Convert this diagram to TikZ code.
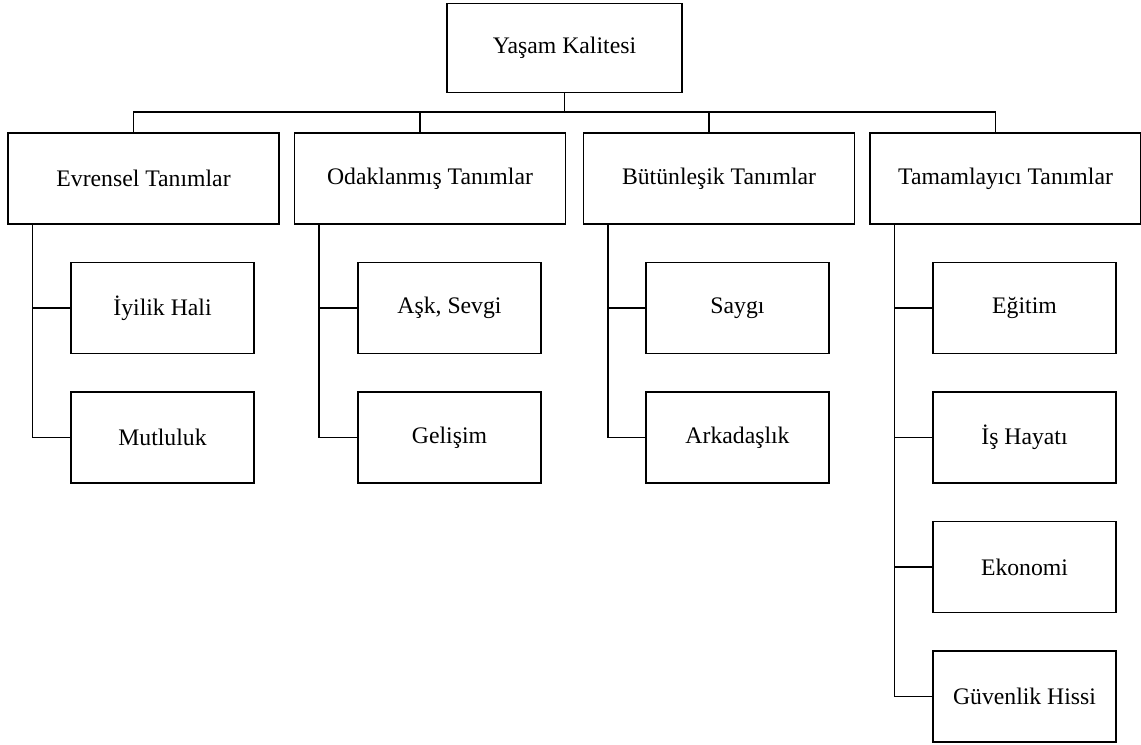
\documentclass[tikz,border=0pt]{standalone}
\usepackage{fontspec}
\setmainfont{Liberation Serif}
\usepackage{tikz}
\usetikzlibrary{positioning}

\tikzset{
  kutu/.style={draw, line width=0.7pt, minimum height=1.82cm, font=\fontsize{13.5}{16}\selectfont},
  ana/.style={kutu, minimum width=5.42cm},
  alt/.style={kutu, minimum width=3.66cm},
  bag/.style={line width=0.7pt}
}

\begin{document}
\begin{tikzpicture}[x=0.02cm, y=-0.02cm]
  \useasboundingbox (0,0) rectangle (1141,744);
  % root and first level
  \node[kutu, minimum width=4.7cm, minimum height=1.78cm] (yk) at (564.5,48) {Yaşam Kalitesi};
  \node[ana] (ev) at (143.5,178.5) {Evrensel Tanımlar};
  \node[ana] (od) at (430,178.5) {Odaklanmış Tanımlar};
  \node[ana] (bu) at (719,178.5) {Bütünleşik Tanımlar};
  \node[ana] (ta) at (1005.5,178.5) {Tamamlayıcı Tanımlar};
  \coordinate (bus) at (564.5,112);
  \draw[bag] (yk.south) -- (bus);
  \draw[bag] ([xshift=-0.2cm]ev.north) |- (bus) -| ([xshift=-0.2cm]ta.north);
  \draw[bag] ([xshift=-0.2cm]od.north) -- ([xshift=-0.2cm]od.north |- bus);
  \draw[bag] ([xshift=-0.2cm]bu.north) -- ([xshift=-0.2cm]bu.north |- bus);
  % second level
  \node[alt] (ev1) at (162.5,308) {İyilik Hali};
  \node[alt] (ev2) at (162.5,437.5) {Mutluluk};
  \node[alt] (od1) at (449.5,308) {Aşk, Sevgi};
  \node[alt] (od2) at (449.5,437.5) {Gelişim};
  \node[alt] (bu1) at (737.5,308) {Saygı};
  \node[alt] (bu2) at (737.5,437.5) {Arkadaşlık};
  \node[alt] (ta1) at (1024.5,308) {Eğitim};
  \node[alt] (ta2) at (1024.5,437.5) {İş Hayatı};
  \node[alt] (ta3) at (1024.5,567) {Ekonomi};
  \node[alt] (ta4) at (1024.5,696.5) {Güvenlik Hissi};
  % branches
  \draw[bag] ([xshift=0.5cm]ev.south west) |- (ev2.west);
  \draw[bag] ([xshift=0.5cm]ev.south west) |- (ev1.west);
  \draw[bag] ([xshift=0.5cm]od.south west) |- (od2.west);
  \draw[bag] ([xshift=0.5cm]od.south west) |- (od1.west);
  \draw[bag] ([xshift=0.5cm]bu.south west) |- (bu2.west);
  \draw[bag] ([xshift=0.5cm]bu.south west) |- (bu1.west);
  \draw[bag] ([xshift=0.5cm]ta.south west) |- (ta4.west);
  \draw[bag] ([xshift=0.5cm]ta.south west) |- (ta3.west);
  \draw[bag] ([xshift=0.5cm]ta.south west) |- (ta2.west);
  \draw[bag] ([xshift=0.5cm]ta.south west) |- (ta1.west);
\end{tikzpicture}
\end{document}
